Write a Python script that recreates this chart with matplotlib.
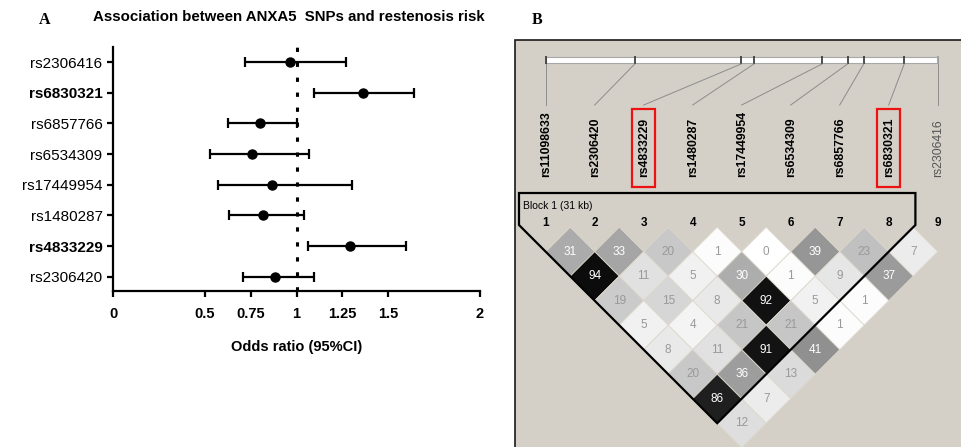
import matplotlib
matplotlib.use('Agg')
import matplotlib.pyplot as plt
from matplotlib.patches import Rectangle, Polygon

plt.rcParams['font.family'] = ['Liberation Sans', 'DejaVu Sans']

# ---- panel A data (odds ratio + 95% CI) ----
snps_a = ['rs2306416', 'rs6830321', 'rs6857766', 'rs6534309',
          'rs17449954', 'rs1480287', 'rs4833229', 'rs2306420']
odds = [0.965, 1.36, 0.80, 0.755, 0.865, 0.815, 1.29, 0.885]
ci_low = [0.72, 1.095, 0.625, 0.53, 0.57, 0.63, 1.065, 0.71]
ci_high = [1.27, 1.64, 1.005, 1.07, 1.305, 1.04, 1.595, 1.095]
bold_snps = ['rs6830321', 'rs4833229']
xticks_a = [0, 0.5, 0.75, 1, 1.25, 1.5, 2]
xtick_labels = ['0', '0.5', '0.75', '1', '1.25', '1.5', '2']

# ---- panel B data (LD plot, r2 x 100) ----
snps_ld = ['rs11098633', 'rs2306420', 'rs4833229', 'rs1480287', 'rs17449954',
           'rs6534309', 'rs6857766', 'rs6830321', 'rs2306416']
pos_kb = [0, 7.7, 16.9, 18.0, 23.9, 26.1, 27.5, 31.0, 33.9]
# r2 by distance between markers: row k holds pairs (i, i+k)
r2_rows = [
    [31, 33, 20, 1, 0, 39, 23, 7],
    [94, 11, 5, 30, 1, 9, 37],
    [19, 15, 8, 92, 5, 1],
    [5, 4, 21, 21, 1],
    [8, 11, 91, 41],
    [20, 36, 13],
    [86, 7],
    [12],
]
block_markers = (1, 8)
block_label = 'Block 1 (31 kb)'
highlight = ['rs4833229', 'rs6830321']
untyped = ['rs2306416']

W, H = 961, 447
fig = plt.figure(figsize=(W / 100, H / 100), dpi=100)

# overlay axes in pixel units for panel B and panel letters
ov = fig.add_axes([0, 0, 1, 1])
ov.set_xlim(0, W)
ov.set_ylim(H, 0)
ov.axis('off')

ov.text(45, 20, 'A', family='Liberation Serif', fontweight='bold', fontsize=11.5,
        ha='center', va='center')
ov.text(537, 20, 'B', family='Liberation Serif', fontweight='bold', fontsize=11.5,
        ha='center', va='center')
ov.text(289, 17, 'Association between ANXA5  SNPs and restenosis risk',
        fontweight='bold', fontsize=10.8, ha='center', va='center')

# ---- panel B ----
ov.add_patch(Rectangle((515, 40), 500, 500, facecolor='#d4d0c8',
                       edgecolor='#1a1a1a', lw=1.2))
x0, dx = 545.7, 49.0
s = dx / 2
n = len(snps_ld)
kb_scale = (n - 1) * dx / pos_kb[-1]
bar_top, bar_bot = 57, 63
ov.add_patch(Rectangle((x0, bar_top), (n - 1) * dx, bar_bot - bar_top,
                       facecolor='white', edgecolor='#a8a8a8', lw=0.8))
label_top, label_bot = 105, 177
for i, (name, kb) in enumerate(zip(snps_ld, pos_kb)):
    px = x0 + kb * kb_scale
    lx = x0 + i * dx
    tick_c = '#a0a0a0' if i == n - 1 else '#404040'
    ov.plot([px, px], [bar_top - 1, bar_bot + 1], color=tick_c, lw=1.3,
            solid_capstyle='butt')
    ov.plot([px, lx], [bar_bot + 1, label_top], color='#8c8c8c', lw=0.7)
    if name in untyped:
        ov.text(lx, label_bot, name, rotation=90, ha='center', va='bottom',
                fontsize=8.8, color='#555555')
    else:
        ov.text(lx, label_bot, name, rotation=90, ha='center', va='bottom',
                fontsize=8.8, fontweight='bold', color='black')
    if name in highlight:
        ov.add_patch(Rectangle((lx - 11.5, 109), 23, 78, fill=False,
                               edgecolor='#ee1111', lw=1.6))
    ov.text(lx, 223, str(i + 1), ha='center', va='center', fontsize=8.5,
            fontweight='bold')

ytop = 227.2
for k, row in enumerate(r2_rows, start=1):
    for i, val in enumerate(row):
        j = i + k
        cx = x0 + (i + j) / 2 * dx
        cy = ytop + k * s
        r2 = val / 100
        g = max(0.0, min(1.0, (1 - r2) ** 1.08))
        ov.add_patch(Polygon([(cx - s, cy), (cx, cy - s), (cx + s, cy), (cx, cy + s)],
                             closed=True, facecolor=(g, g, g),
                             edgecolor='#ddd8cc', lw=0.6))
        tc = 'white' if val >= 25 else '#999999'
        ov.text(cx, cy, str(val), ha='center', va='center', fontsize=8.5, color=tc)

b0, b1 = block_markers[0] - 1, block_markers[1] - 1
yb_top, yb_side = 193, 225
xl = x0 + b0 * dx - (ytop + s - yb_side)
xr = x0 + b1 * dx + (ytop + s - yb_side)
bottom = (x0 + (b0 + b1) / 2 * dx, ytop + (b1 - b0) * s + s)
ov.add_patch(Polygon([(xl, yb_top), (xl, yb_side), bottom, (xr, yb_side), (xr, yb_top)],
                     closed=True, fill=False, edgecolor='black', lw=1.6,
                     joinstyle='miter'))
ov.text(xl + 4, 206, block_label, ha='left', va='center', fontsize=7.5)

# ---- panel A ----
ax = fig.add_axes([113 / W, 1 - 291 / H, (480 - 113) / W, (291 - 47) / H])
ax.patch.set_alpha(0)
y = list(range(len(snps_a)))
ax.axvline(1, color='black', lw=2.2, ls=(0, (1.4, 3.5)), zorder=1)
ax.errorbar(odds, y,
            xerr=[[o - lo for o, lo in zip(odds, ci_low)],
                  [hi - o for o, hi in zip(odds, ci_high)]],
            fmt='o', color='black', ms=6.5, elinewidth=1.6, capsize=3.4,
            capthick=1.6, zorder=3)
ax.set_xlim(0, 2)
ax.set_ylim(len(snps_a) - 1 + 0.46, -0.49)
ax.set_yticks(y)
ax.set_yticklabels(snps_a, fontsize=11)
for lab in ax.get_yticklabels():
    if lab.get_text() in bold_snps:
        lab.set_fontweight('bold')
ax.set_xticks(xticks_a)
ax.set_xticklabels(xtick_labels, fontsize=10.5, fontweight='bold')
for sp in ['top', 'right']:
    ax.spines[sp].set_visible(False)
for sp in ['left', 'bottom']:
    ax.spines[sp].set_linewidth(1.6)
ax.tick_params(axis='y', width=1.6, length=4.5, pad=3)
ax.tick_params(axis='x', width=1.6, length=4.5, pad=7)
ax.set_xlabel('Odds ratio (95%CI)', fontsize=10.5, fontweight='bold', labelpad=14)

fig.savefig('out.png', dpi=100)
